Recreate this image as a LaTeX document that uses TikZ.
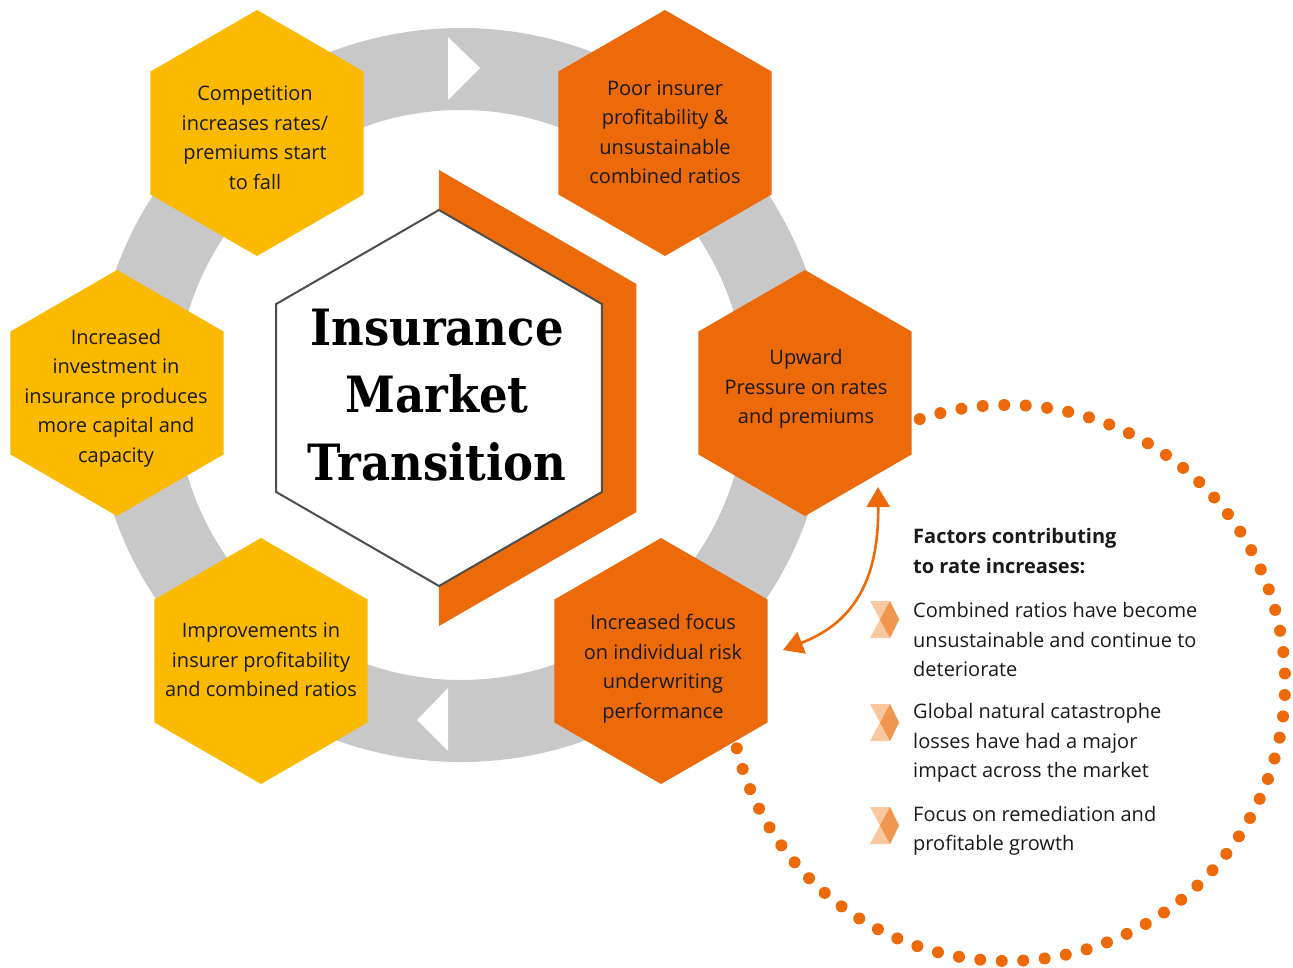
\documentclass[tikz,border=0pt]{standalone}
\usepackage{fontspec}
\setmainfont{Open Sans}
\newfontfamily\titlefont{DejaVu Serif Condensed Bold}
\usetikzlibrary{arrows.meta}

\definecolor{hexyellow}{HTML}{FBB900}
\definecolor{hexorange}{HTML}{EC6A0A}
\definecolor{ringgray}{HTML}{C8C8C8}
\definecolor{edgegray}{HTML}{4D4D4D}
\definecolor{ink}{HTML}{1A1A1A}
\definecolor{marklight}{HTML}{F9C8A0}
\definecolor{markdark}{HTML}{F0974F}

% pointy-topped hexagon: centre, circumradius, fill style
\newcommand{\hexfill}[3]{%
  \path[#3] (#1) +(90:#2) -- +(30:#2) -- +(-30:#2) -- +(-90:#2)
    -- +(-150:#2) -- +(150:#2) -- cycle;}

% list bullet: two overlapping chevrons
\newcommand{\listmark}[1]{%
  \begin{scope}[shift={(#1)}]
    \fill[marklight] (0,0) -- (20,0) -- (29,18.5) -- (20,37) -- (0,37) -- (10,18.5) -- cycle;
    \fill[markdark] (20,0) -- (29,18.5) -- (20,37) -- (10,18.5) -- cycle;
  \end{scope}}

\tikzset{
  hextext/.style={align=center, text=ink, inner sep=0pt,
    font=\fontsize{20}{29.5}\selectfont},
  listtext/.style={align=left, text=ink, inner sep=0pt, anchor=west,
    font=\fontsize{20}{29.5}\selectfont},
  titletext/.style={align=center, text=black, inner sep=0pt,
    font=\titlefont\fontsize{50}{67.5}\selectfont},
  arrowline/.style={draw=hexorange, line width=2.6pt,
    {Triangle[length=20pt,width=23pt]}-{Triangle[length=20pt,width=23pt]}},
  dotline/.style={draw=hexorange, line width=12pt, line cap=round,
    dash pattern=on 0pt off 21.5pt},
}

\begin{document}
\begin{tikzpicture}[x=1pt,y=-1pt]
  \useasboundingbox (0,0) rectangle (1293,968);

  % cycle ring with direction marks
  \coordinate (ringc) at (461,395);
  \fill[ringgray, even odd rule] (ringc) circle (367) (ringc) circle (285);
  \fill[white] (448,37) -- (480,68) -- (448,100) -- cycle;
  \fill[white] (448,688) -- (417,720) -- (448,751) -- cycle;

  % stage hexagons
  \coordinate (hc1) at (257,133);
  \coordinate (hc2) at (665,133);
  \coordinate (hc3) at (805,393);
  \coordinate (hc4) at (661,661);
  \coordinate (hc5) at (261,661);
  \coordinate (hc6) at (117,393);
  \hexfill{hc1}{123}{fill=hexyellow}
  \hexfill{hc2}{123}{fill=hexorange}
  \hexfill{hc3}{123}{fill=hexorange}
  \hexfill{hc4}{123}{fill=hexorange}
  \hexfill{hc5}{123}{fill=hexyellow}
  \hexfill{hc6}{123}{fill=hexyellow}

  % central hexagon with its orange half-frame
  \coordinate (cc) at (439,398);
  \fill[hexorange] (cc) +(-90:228) -- +(-30:228) -- +(30:228) -- +(90:228)
    -- +(90:188) -- +(30:188) -- +(-30:188) -- +(-90:188) -- cycle;
  \hexfill{cc}{188}{fill=white, draw=edgegray, line width=2pt}

  % dotted circle around the factors list
  \draw[dotline] (1007,683) ++(-108.3:278) arc[start angle=-108.3, end angle=166.5, radius=278];

  % stage labels
  \node[hextext] (competition) at (255,138) {Competition\\increases rates/\\premiums start\\to fall};
  \node[hextext] (poor) at (665,132.5) {Poor insurer\\profitability \&\\unsustainable\\combined ratios};
  \node[hextext] (upward) at (806,389) {Upward\\Pressure on rates\\and premiums};
  \node[hextext] (focus) at (663,668.5) {Increased focus\\on individual risk\\underwriting\\performance};
  \node[hextext] (improve) at (261,660) {Improvements in\\insurer profitability\\and combined ratios};
  \node[hextext] (invest) at (116,398) {Increased\\investment in\\insurance produces\\more capital and\\capacity};
  \node[titletext] (title) at (437,395) {Insurance\\Market\\Transition};

  % link between the rate pressure and underwriting stages
  \coordinate (linkup) at (878,487);
  \coordinate (linkdown) at (783,650);
  \draw[arrowline] (linkup) .. controls (879,585) and (850,624) .. (linkdown);

  % factors list
  \node[listtext, font=\fontsize{20}{29.5}\selectfont\bfseries] (factors) at (913,551)
    {Factors contributing\\to rate increases:};
  \listmark{870,601}
  \node[listtext] (f1) at (913,639.5) {Combined ratios have become\\unsustainable and continue to\\deteriorate};
  \listmark{870,704}
  \node[listtext] (f2) at (913,743) {Global natural catastrophe\\losses have had a major\\impact across the market};
  \listmark{870,807}
  \node[listtext] (f3) at (913,831) {Focus on remediation and\\profitable growth};
\end{tikzpicture}
\end{document}
